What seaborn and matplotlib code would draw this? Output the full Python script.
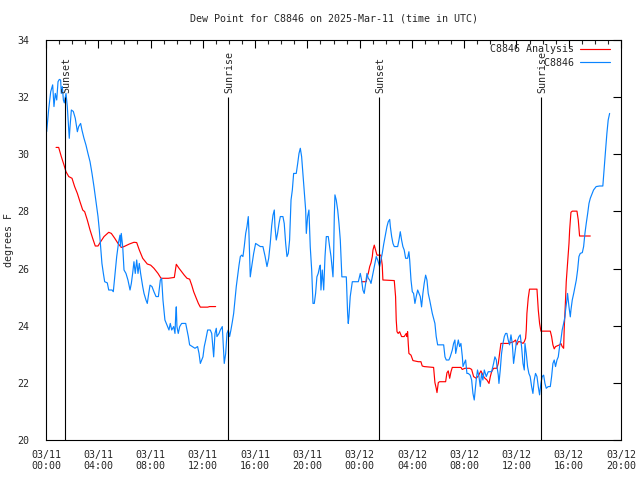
import matplotlib
matplotlib.use("Agg")
import matplotlib.pyplot as plt
from matplotlib.ticker import MultipleLocator, FixedLocator
import seaborn as sns
import pandas as pd

# hours since 2025-03-11 00:00 UTC
obs_hours = [0.05, 0.2, 0.36, 0.51, 0.61, 0.71, 0.82, 0.92, 1.02, 1.12, 1.17, 1.25, 1.33, 1.4, 1.53, 1.63,
             1.78, 1.84, 1.94, 2.09, 2.24, 2.4, 2.5, 2.65, 2.75, 2.9, 3.06, 3.21, 3.37, 3.52, 3.67, 3.83,
             3.98, 4.08, 4.18, 4.28, 4.39, 4.49, 4.69, 4.8, 5.05, 5.15, 5.26, 5.41, 5.56, 5.66, 5.71, 5.76,
             5.87, 5.97, 6.12, 6.27, 6.43, 6.53, 6.63, 6.73, 6.83, 6.94, 7.04, 7.14, 7.24, 7.4, 7.5, 7.65,
             7.75, 7.86, 7.96, 8.11, 8.26, 8.42, 8.6, 8.75, 8.85, 8.95, 9.1, 9.26, 9.41, 9.51, 9.62, 9.77,
             9.87, 9.92, 9.97, 10.02, 10.12, 10.23, 10.38, 10.69, 10.79, 10.89, 10.99, 11.2, 11.4, 11.6,
             11.71, 11.81, 11.91, 12.01, 12.11, 12.22, 12.37, 12.57, 12.68, 12.78, 12.83, 12.93, 13.03,
             13.08, 13.24, 13.34, 13.49, 13.6, 13.64, 13.75, 13.85, 13.95, 14.05, 14.15, 14.26, 14.36,
             14.46, 14.56, 14.67, 14.77, 14.87, 14.97, 15.07, 15.17, 15.28, 15.38, 15.48, 15.53, 15.63,
             15.74, 15.89, 16.04, 16.24, 16.4, 16.6, 16.76, 16.91, 17.04, 17.16, 17.27, 17.37, 17.47,
             17.52, 17.62, 17.72, 17.83, 17.93, 18.13, 18.23, 18.34, 18.44, 18.54, 18.64, 18.75, 18.85,
             18.95, 19.15, 19.26, 19.36, 19.46, 19.56, 19.66, 19.76, 19.87, 19.92, 20.02, 20.12, 20.22,
             20.33, 20.43, 20.53, 20.63, 20.73, 20.83, 20.94, 20.99, 21.04, 21.14, 21.25, 21.35, 21.45,
             21.6, 21.7, 21.81, 21.91, 21.96, 22.01, 22.06, 22.11, 22.21, 22.32, 22.42, 22.52, 22.6,
             22.64, 22.98, 23.08, 23.13, 23.18, 23.28, 23.39, 23.44, 23.9, 24.05, 24.15, 24.25, 24.35,
             24.46, 24.56, 24.66, 24.77, 24.87, 24.97, 25.07, 25.17, 25.27, 25.38, 25.53, 25.63, 25.73,
             25.84, 25.99, 26.09, 26.19, 26.3, 26.35, 26.45, 26.55, 26.65, 26.91, 27.01, 27.11, 27.21,
             27.31, 27.41, 27.52, 27.67, 27.77, 27.83, 27.93, 28.03, 28.13, 28.23, 28.33, 28.44, 28.54,
             28.64, 28.74, 28.84, 28.94, 29.05, 29.15, 29.25, 29.36, 29.46, 29.56, 29.66, 29.76, 29.86,
             29.97, 30.43, 30.53, 30.63, 30.83, 30.93, 31.09, 31.19, 31.29, 31.35, 31.45, 31.55, 31.65,
             31.75, 31.86, 31.91, 32.0, 32.11, 32.21, 32.31, 32.46, 32.57, 32.67, 32.77, 32.82, 32.92,
             33.02, 33.13, 33.23, 33.33, 33.43, 33.54, 33.69, 33.84, 34.1, 34.25, 34.35, 34.46, 34.51,
             34.61, 34.66, 34.76, 34.86, 34.97, 35.07, 35.17, 35.27, 35.37, 35.47, 35.58, 35.68, 35.78,
             35.88, 35.98, 36.09, 36.19, 36.29, 36.39, 36.5, 36.6, 36.65, 36.75, 36.85, 36.95, 37.05,
             37.16, 37.26, 37.36, 37.46, 37.57, 37.67, 37.77, 37.87, 37.97, 38.08, 38.18, 38.28, 38.43,
             38.59, 38.69, 38.79, 38.89, 38.99, 39.1, 39.2, 39.3, 39.4, 39.5, 39.61, 39.71, 39.76, 39.86,
             39.91, 40.02, 40.12, 40.17, 40.27, 40.38, 40.48, 40.58, 40.68, 40.78, 40.88, 41.04, 41.14,
             41.24, 41.34, 41.45, 41.55, 41.65, 41.75, 41.9, 42.1, 42.36, 42.61, 42.72, 42.82, 42.92,
             43.02, 43.13]
obs_dewpt = [30.79, 31.55, 32.19, 32.43, 31.67, 32.13, 31.9, 32.54, 32.62, 32.6, 32.13, 32.37, 31.9, 31.8,
             32.13, 31.67, 30.56, 30.97, 31.55, 31.5, 31.26, 30.79, 30.97, 31.08, 30.85, 30.57, 30.32,
             30.03, 29.74, 29.33, 28.87, 28.34, 27.82, 27.35, 26.77, 26.18, 25.83, 25.54, 25.5, 25.25,
             25.25, 25.19, 25.71, 26.42, 26.94, 27.17, 26.77, 27.23, 26.77, 25.95, 25.83, 25.6, 25.25,
             25.48, 25.83, 26.24, 25.83, 26.3, 25.83, 26.18, 25.83, 25.37, 25.13, 24.9, 24.78, 25.13,
             25.42, 25.37, 25.19, 25.02, 25.02, 25.6, 25.66, 24.9, 24.2, 24.02, 23.85, 24.08, 23.85,
             23.97, 23.73, 24.31, 24.66, 23.97, 23.73, 23.97, 24.08, 24.08, 23.85, 23.62, 23.33, 23.27,
             23.21, 23.27, 23.03, 22.68, 22.8, 22.91, 23.27, 23.5, 23.85, 23.85, 23.73, 23.21, 22.91,
             23.73, 23.91, 23.62, 23.73, 23.85, 23.97, 23.03, 22.68, 23.03, 23.73, 23.85, 23.62, 23.85,
             24.14, 24.43, 24.9, 25.37, 25.77, 26.12, 26.42, 26.47, 26.42, 26.77, 27.23, 27.47, 27.82,
             27.23, 25.71, 26.07, 26.53, 26.88, 26.82, 26.77, 26.77, 26.44, 26.07, 26.36, 26.88, 27.5,
             27.87, 28.05, 27.47, 27.0, 27.23, 27.58, 27.82, 27.82, 27.58, 26.88, 26.42, 26.53, 27.0,
             28.4, 28.75, 29.33, 29.33, 29.68, 30.03, 30.21, 29.92, 29.33, 28.69, 28.05, 27.23, 27.82,
             28.05, 26.77, 25.95, 24.78, 24.78, 25.13, 25.71, 25.83, 26.07, 26.12, 25.25, 25.95, 25.25,
             26.42, 27.12, 27.12, 26.77, 26.42, 25.95, 25.71, 26.42, 27.82, 28.58, 28.4, 28.05, 27.58,
             27.0, 26.18, 25.71, 25.71, 24.43, 24.08, 24.31, 25.02, 25.37, 25.54, 25.54, 25.83, 25.6,
             25.25, 25.13, 25.48, 25.83, 25.66, 25.6, 25.48, 25.71, 25.95, 26.18, 26.42, 26.3, 26.07,
             26.3, 26.53, 26.85, 27.23, 27.47, 27.64, 27.72, 27.47, 27.12, 26.88, 26.77, 26.77, 27.0,
             27.29, 27.0, 26.77, 26.65, 26.36, 26.36, 26.59, 26.3, 25.6, 25.19, 25.13, 24.78, 25.02,
             25.25, 25.13, 25.02, 24.66, 25.13, 25.48, 25.77, 25.6, 25.13, 24.9, 24.66, 24.43, 24.26,
             24.08, 23.62, 23.33, 23.33, 22.91, 22.8, 22.8, 22.91, 23.15, 23.38, 23.5, 23.03, 23.27,
             23.5, 23.27, 23.38, 22.91, 22.57, 22.68, 22.8, 22.33, 22.33, 22.27, 22.1, 21.63, 21.4,
             21.63, 22.1, 22.45, 22.22, 21.87, 22.33, 22.1, 22.45, 22.22, 22.39, 22.39, 22.68, 22.91,
             22.8, 22.57, 22.27, 21.98, 22.45, 23.03, 23.38, 23.62, 23.73, 23.73, 23.5, 23.33, 23.68,
             23.38, 22.68, 23.03, 23.38, 23.5, 23.62, 23.68, 23.27, 22.68, 22.45, 23.38, 23.03, 22.57,
             22.33, 22.22, 21.87, 21.63, 22.1, 22.33, 22.22, 21.87, 21.58, 21.98, 22.22, 22.27, 21.98,
             21.81, 21.87, 21.87, 22.22, 22.68, 22.8, 22.57, 22.8, 22.91, 23.27, 23.5, 23.85, 24.08,
             24.31, 24.55, 24.9, 25.13, 24.66, 24.31, 24.55, 24.9, 25.13, 25.37, 25.6, 25.95, 26.42,
             26.53, 26.56, 26.77, 27.23, 27.58, 27.93, 28.28, 28.46, 28.58, 28.75, 28.87, 28.89, 28.89,
             29.57, 30.15, 30.73, 31.2, 31.43]

# analysis series, two segments with a gap in between
ana_hours_1 = [0.77, 0.97, 1.17, 1.38, 1.53, 1.74, 1.99, 2.19, 2.4, 2.6, 2.81, 2.96, 3.16, 3.37, 3.57,
               3.77, 3.98, 4.18, 4.44, 4.8, 5.0, 5.26, 5.51, 5.76, 5.97, 6.38, 6.73, 6.94, 7.14, 7.4,
               7.75, 8.01, 8.26, 8.57, 8.8, 9.36, 9.82, 9.97, 10.18, 10.38, 10.58, 10.79, 10.99, 11.15,
               11.3, 11.5, 11.66, 11.81, 12.37, 12.52, 12.98]
ana_dewpt_1 = [30.24, 30.24, 29.92, 29.62, 29.39, 29.22, 29.16, 28.87, 28.63, 28.34, 28.05, 27.99, 27.7,
               27.35, 27.06, 26.79, 26.79, 26.94, 27.12, 27.27, 27.23, 27.06, 26.88, 26.74, 26.77, 26.86,
               26.92, 26.91, 26.65, 26.36, 26.16, 26.12, 26.01, 25.83, 25.66, 25.66, 25.69, 26.15, 26.01,
               25.89, 25.77, 25.66, 25.63, 25.42, 25.19, 24.96, 24.78, 24.65, 24.65, 24.67, 24.67]
ana_hours_2 = [24.15, 24.51, 24.56, 24.66, 24.77, 24.87, 24.97, 25.02, 25.12, 25.22, 25.33, 25.63, 25.73,
               25.78, 26.65, 26.75, 26.8, 26.86, 26.95, 27.06, 27.21, 27.41, 27.57, 27.62, 27.67, 27.72,
               27.77, 27.93, 28.08, 28.49, 28.69, 28.79, 28.94, 29.66, 29.76, 29.86, 29.92, 30.02, 30.12,
               30.58, 30.68, 30.78, 30.89, 30.99, 31.09, 31.75, 31.85, 32.06, 32.42, 32.57, 32.72, 32.92,
               33.08, 33.28, 33.38, 33.49, 33.59, 33.74, 33.9, 34.0, 34.1, 34.25, 34.5, 34.61, 34.71,
               34.81, 35.37, 35.78, 35.93, 36.03, 36.14, 36.29, 36.5, 36.6, 36.7, 36.75, 36.8, 36.9, 37.0,
               37.57, 37.67, 37.77, 37.87, 38.59, 38.69, 38.79, 38.89, 38.99, 39.3, 39.4, 39.5, 39.61,
               39.66, 39.71, 39.76, 39.81, 39.91, 40.02, 40.07, 40.17, 40.27, 40.63, 40.73, 40.83, 41.65]
ana_dewpt_2 = [25.54, 25.54, 25.71, 25.83, 26.07, 26.2, 26.42, 26.65, 26.82, 26.65, 26.47, 26.47, 26.12,
               25.6, 25.58, 25.02, 24.2, 23.79, 23.73, 23.79, 23.62, 23.62, 23.73, 23.62, 23.79, 23.38,
               23.03, 22.97, 22.78, 22.74, 22.74, 22.59, 22.57, 22.54, 22.01, 21.81, 21.66, 22.01, 22.04,
               22.04, 22.35, 22.42, 22.16, 22.39, 22.54, 22.54, 22.47, 22.51, 22.51, 22.47, 22.22, 22.16,
               22.24, 22.42, 22.33, 22.22, 22.16, 22.1, 21.98, 22.22, 22.39, 22.51, 22.51, 22.68, 23.03,
               23.38, 23.38, 23.44, 23.5, 23.33, 23.44, 23.44, 23.38, 23.44, 23.56, 23.85, 24.43, 24.96,
               25.28, 25.28, 24.55, 24.08, 23.81, 23.81, 23.62, 23.33, 23.19, 23.27, 23.33, 23.38, 23.27,
               23.21, 23.97, 24.43, 24.96, 25.54, 26.18, 26.88, 27.35, 27.97, 28.01, 28.01, 27.7, 27.14,
               27.14]

sun_labels = ["Sunset", "Sunrise", "Sunset", "Sunrise"]
sun_hours = [1.48, 13.96, 25.5, 37.9]

tick_hours = [0, 4, 8, 12, 16, 20, 24, 28, 32, 36, 40, 44]
tick_labels = ["03/11\n00:00", "03/11\n04:00", "03/11\n08:00", "03/11\n12:00", "03/11\n16:00",
               "03/11\n20:00", "03/12\n00:00", "03/12\n04:00", "03/12\n08:00", "03/12\n12:00",
               "03/12\n16:00", "03/12\n20:00"]

ANA = "C8846 Analysis"
OBS = "C8846"

df = pd.concat([
    pd.DataFrame({"hour": ana_hours_1, "dewpt": ana_dewpt_1, "series": ANA, "seg": 0}),
    pd.DataFrame({"hour": ana_hours_2, "dewpt": ana_dewpt_2, "series": ANA, "seg": 1}),
    pd.DataFrame({"hour": obs_hours, "dewpt": obs_dewpt, "series": OBS, "seg": 2}),
], ignore_index=True)

sns.set_style("white")
plt.rcParams["font.family"] = ["DejaVu Sans Mono"]
fs = 7.2

fig = plt.figure(figsize=(6.4, 4.8), dpi=100)
ax = fig.add_axes([46 / 640, 40 / 480, 575 / 640, 400 / 480])

sns.lineplot(data=df, x="hour", y="dewpt", hue="series", units="seg", estimator=None, sort=False,
             hue_order=[ANA, OBS], palette={ANA: "#ff0000", OBS: "#0a84ff"},
             linewidth=0.85, ax=ax)

# sunrise / sunset markers
ax.vlines(sun_hours, 20, 32, color="black", linewidth=0.8)
for h, lab in zip(sun_hours, sun_labels):
    ax.text(h + 0.1, 32.15, lab, rotation=90, ha="center", va="bottom", fontsize=fs)

ax.set_xlim(0, 44)
ax.set_ylim(20, 34)
ax.xaxis.set_major_locator(FixedLocator(tick_hours))
ax.set_xticklabels(tick_labels)
ax.xaxis.set_minor_locator(MultipleLocator(1))
ax.yaxis.set_major_locator(MultipleLocator(2))
ax.tick_params(which="major", direction="in", top=True, right=True, length=6, width=0.8,
               labelsize=fs, color="black")
ax.tick_params(which="minor", direction="in", top=True, right=False, length=3, width=0.8)
ax.tick_params(axis="x", pad=7)
ax.tick_params(axis="y", pad=12)
for s in ax.spines.values():
    s.set_linewidth(0.8)
    s.set_color("black")

ax.set_xlabel("")
ax.set_ylabel("degrees F", fontsize=fs)
ax.yaxis.set_label_coords(-0.055, 0.5)
ax.set_title("Dew Point for C8846 on 2025-Mar-11 (time in UTC)", fontsize=fs, pad=13)

handles, labels = ax.get_legend_handles_labels()
width = max(len(l) for l in labels)
ax.legend(handles, [l.rjust(width) for l in labels], loc="upper right", bbox_to_anchor=(0.992, 1.005),
          frameon=False, markerfirst=False, fontsize=fs, handlelength=3.0, handletextpad=0.6,
          labelspacing=0.35, borderaxespad=0.2)

fig.savefig("out.png", dpi=100)
